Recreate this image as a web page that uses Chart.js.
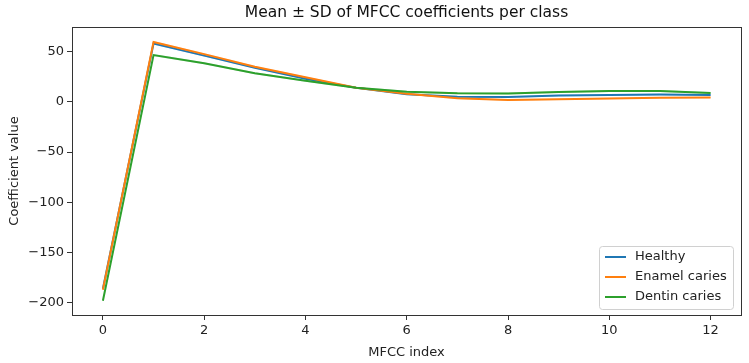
<!DOCTYPE html>
<html>
<head>
<meta charset="utf-8">
<script src="https://cdn.jsdelivr.net/npm/chart.js@4"></script>
<style>
  html, body { margin: 0; padding: 0; background: #fff; }
  #wrap { width: 749px; height: 363px; }
</style>
</head>
<body>
<div id="wrap"><canvas id="mfccChart" width="749" height="363"></canvas></div>
<script>
// MFCC index on the x axis
const mfccIndex = [0, 1, 2, 3, 4, 5, 6, 7, 8, 9, 10, 11, 12];

// class means
const healthyMean = [-186, 58, 46, 34, 23, 14, 7.6, 5.0, 4.8, 6.2, 6.8, 7.2, 6.8];
const enamelMean = [-187, 59.5, 47.5, 35, 24.5, 14, 8, 3.6, 1.8, 2.6, 3.3, 4, 4.3];
const dentinMean = [-198, 46.5, 38.5, 28.5, 21, 14, 10, 8.6, 8.4, 9.8, 10.8, 10.9, 8.9];

// class standard deviations (thin bands)
const healthySd = [1.2, 1.0, 0.8, 0.8, 0.8, 0.8, 0.8, 0.8, 0.8, 0.8, 0.8, 0.8, 0.8];
const enamelSd = [1.2, 1.0, 0.8, 0.8, 0.8, 0.8, 0.8, 0.8, 0.8, 0.8, 0.8, 0.8, 0.8];
const dentinSd = [1.5, 1.2, 1.0, 1.0, 1.0, 1.0, 1.0, 1.0, 1.0, 1.0, 1.0, 1.0, 1.0];

const xTicks = [0, 2, 4, 6, 8, 10, 12];
const yTicks = [-200, -150, -100, -50, 0, 50];

const classNames = ['Healthy', 'Enamel caries', 'Dentin caries'];
const classColors = ['#1f77b4', '#ff7f0e', '#2ca02c'];
const bandColors = ['rgba(31,119,180,0.2)', 'rgba(255,127,14,0.2)', 'rgba(44,160,44,0.2)'];

function pts(vals) {
  return mfccIndex.map((x, i) => ({ x: x, y: vals[i] }));
}

function bandSets(mean, sd, k, order) {
  const upper = mean.map((m, i) => m + sd[i]);
  const lower = mean.map((m, i) => m - sd[i]);
  return [
    { data: pts(upper), borderWidth: 0, pointRadius: 0, fill: '+1', backgroundColor: bandColors[k], order: order },
    { data: pts(lower), borderWidth: 0, pointRadius: 0, fill: false, order: order }
  ];
}

const means = [healthyMean, enamelMean, dentinMean];
const sds = [healthySd, enamelSd, dentinSd];
const datasets = [];
means.forEach((m, k) => {
  // later classes drawn on top, as in matplotlib
  const base = (3 - k) * 2;
  bandSets(m, sds[k], k, base + 1).forEach(d => datasets.push(d));
  datasets.push({
    label: classNames[k],
    data: pts(m),
    borderColor: classColors[k],
    borderWidth: 2,
    pointRadius: 0,
    fill: false,
    tension: 0,
    order: base
  });
});

const fontFam = "'DejaVu Sans', sans-serif";

const framePlugin = {
  id: 'frame',
  afterDraw(chart) {
    const ctx = chart.ctx;
    const a = chart.chartArea;
    ctx.save();
    // axes frame
    ctx.strokeStyle = '#333';
    ctx.lineWidth = 1;
    ctx.strokeRect(Math.round(a.left) + 0.5, Math.round(a.top) + 0.5,
      Math.round(a.right - a.left), Math.round(a.bottom - a.top));

    // title
    ctx.fillStyle = '#111';
    ctx.font = '15.5px ' + fontFam;
    ctx.textAlign = 'center';
    ctx.textBaseline = 'middle';
    ctx.fillText('Mean \u00b1 SD of MFCC coefficients per class', (a.left + a.right) / 2, 13);

    // legend box, lower right inside the axes
    const bx = 599, by = 246, bw = 134, bh = 63;
    ctx.fillStyle = 'rgba(255,255,255,0.8)';
    ctx.strokeStyle = '#d0d0d0';
    ctx.beginPath();
    ctx.roundRect(bx + 0.5, by + 0.5, bw, bh, 3);
    ctx.fill();
    ctx.stroke();
    ctx.font = '13px ' + fontFam;
    ctx.textAlign = 'left';
    classNames.forEach((name, k) => {
      const yy = by + 11 + k * 20;
      ctx.strokeStyle = classColors[k];
      ctx.lineWidth = 2;
      ctx.beginPath();
      ctx.moveTo(bx + 6, yy);
      ctx.lineTo(bx + 27, yy);
      ctx.stroke();
      ctx.fillStyle = '#222';
      ctx.fillText(name, bx + 36, yy);
    });
    ctx.restore();
  }
};

const ctx = document.getElementById('mfccChart').getContext('2d');
new Chart(ctx, {
  type: 'line',
  data: { datasets: datasets },
  options: {
    responsive: false,
    animation: false,
    layout: { padding: { left: 0, right: 8, top: 27, bottom: 0 } },
    plugins: {
      legend: { display: false },
      tooltip: { enabled: false }
    },
    scales: {
      x: {
        type: 'linear',
        min: -0.61,
        max: 12.6,
        afterBuildTicks: s => { s.ticks = xTicks.map(v => ({ value: v })); },
        afterFit: s => { s.height = 48; },
        grid: { drawOnChartArea: false, drawTicks: true, tickLength: 5, color: '#333' },
        border: { display: false },
        ticks: { color: '#222', font: { size: 13, family: fontFam }, padding: 3, maxRotation: 0 },
        title: { display: true, text: 'MFCC index', color: '#222', font: { size: 13, family: fontFam }, padding: { top: 1, bottom: 3 } }
      },
      y: {
        type: 'linear',
        min: -212.2,
        max: 74.5,
        afterBuildTicks: s => { s.ticks = yTicks.map(v => ({ value: v })); },
        afterFit: s => { s.width = 72; },
        grid: { drawOnChartArea: false, drawTicks: true, tickLength: 5, color: '#333' },
        border: { display: false },
        ticks: {
          color: '#222',
          font: { size: 13, family: fontFam },
          padding: 3,
          callback: v => String(v).replace('-', '\u2212')
        },
        title: { display: true, text: 'Coefficient value', color: '#222', font: { size: 13, family: fontFam }, padding: { top: 7, bottom: 0 } }
      }
    }
  },
  plugins: [framePlugin]
});
</script>
</body>
</html>
